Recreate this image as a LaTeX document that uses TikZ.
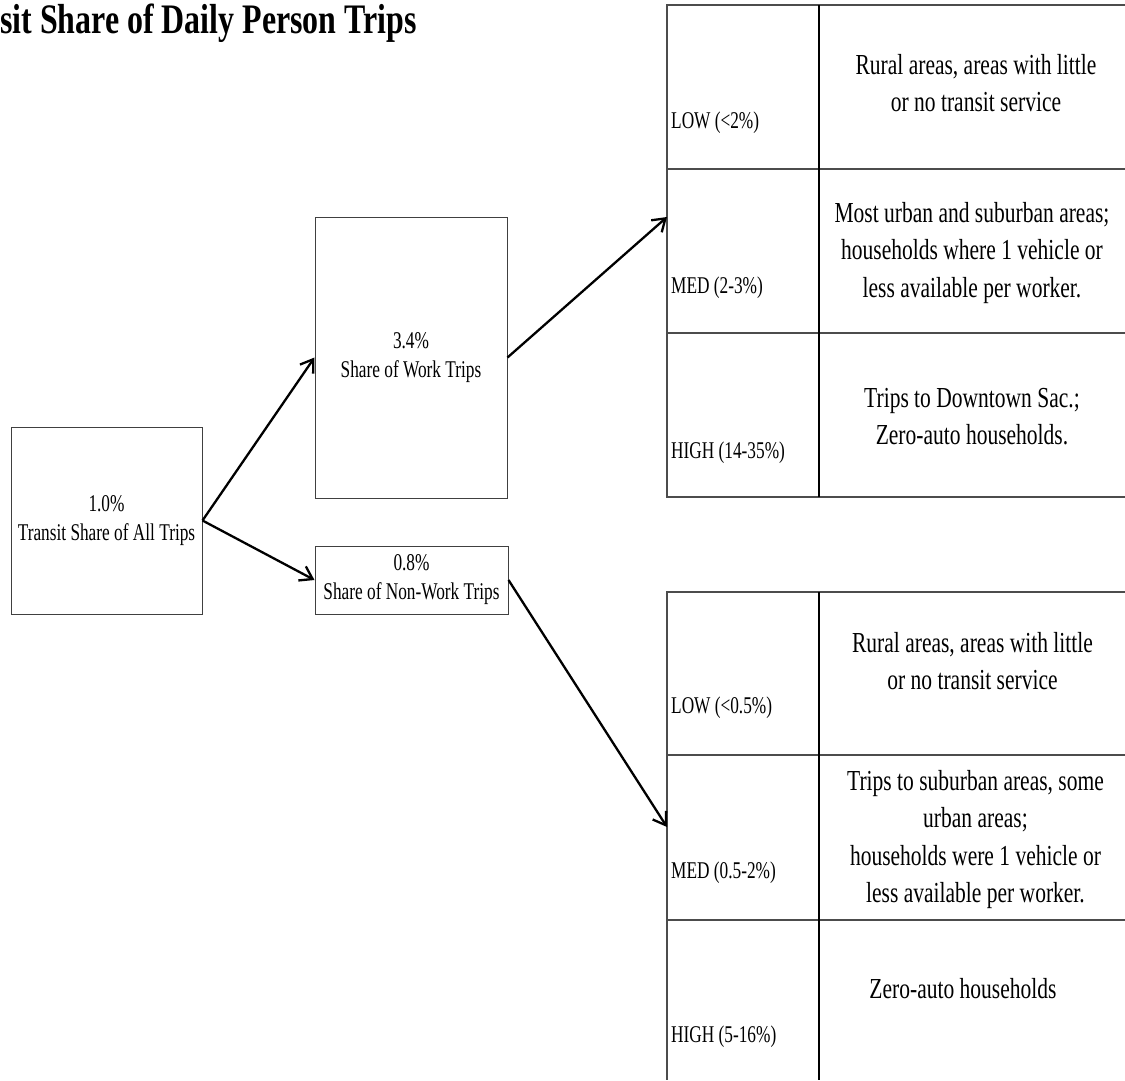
\documentclass[tikz,border=0pt]{standalone}
\usepackage{fontspec}
\setmainfont{Liberation Serif}
\newfontfamily\boxfont[FakeStretch=0.72]{Liberation Serif}
\newfontfamily\descfont[FakeStretch=0.742]{Liberation Serif}
\newfontfamily\titlefont[FakeStretch=0.76]{Liberation Serif}
\usetikzlibrary{arrows.meta}
\tikzset{
  boxnode/.style={draw=black!75, line width=1pt, inner sep=0pt, align=center,
    font=\boxfont\fontsize{24}{29}\selectfont},
  lbl/.style={anchor=base west, inner sep=0pt, font=\boxfont\fontsize{24}{29}\selectfont},
  desc/.style={anchor=base, inner sep=0pt, font=\descfont\fontsize{29}{37.5}\selectfont},
  tline/.style={draw=black!70, line width=1.2pt},
  cline/.style={draw=black, line width=1.2pt},
  arr/.style={line width=2.3pt, -{Straight Barb[length=12pt,width=16pt]}},
}
\begin{document}
\begin{tikzpicture}[x=1pt,y=-1pt]
\useasboundingbox (0,0) rectangle (1125,1080);
% title
\node[anchor=base west, inner sep=0pt, font=\titlefont\bfseries\fontsize{42}{50}\selectfont] (title) at (0,33) {sit Share of Daily Person Trips};
% boxes
\node[boxnode, minimum width=191pt, minimum height=187pt] (all) at (106.5,520.5) {1.0\%\\Transit Share of All Trips};
\node[boxnode, minimum width=192pt, minimum height=281pt] (work) at (411,357.5) {3.4\%\\Share of Work Trips};
\node[boxnode, minimum width=193pt, minimum height=68pt] (nonwork) at (411.5,580) {0.8\%\\Share of Non-Work Trips};
% top table
\draw[tline] (1125,5) -- (667,5) -- (667,497) -- (1125,497);
\draw[tline] (667,169) -- (1125,169);
\draw[tline] (667,333) -- (1125,333);
\draw[cline] (819,5) -- (819,497);
% bottom table
\draw[tline] (1125,592) -- (667,592) -- (667,1080);
\draw[tline] (667,755) -- (1125,755);
\draw[tline] (667,920) -- (1125,920);
\draw[cline] (819,592) -- (819,1080);
% labels
\node[lbl] (l1) at (671,128) {LOW (<2\%)};
\node[lbl] (l2) at (671,293) {MED (2-3\%)};
\node[lbl] (l3) at (671,458) {HIGH (14-35\%)};
\node[lbl] (l4) at (671,713) {LOW (<0.5\%)};
\node[lbl] (l5) at (671,878) {MED (0.5-2\%)};
\node[lbl] (l6) at (671,1042) {HIGH (5-16\%)};
% descriptions
\node[desc] (d1) at (976,74) {\begin{tabular}[t]{@{}c@{}}Rural areas, areas with little\\or no transit service\end{tabular}};
\node[desc] (d2) at (972,222) {\begin{tabular}[t]{@{}c@{}}Most urban and suburban areas;\\households where 1 vehicle or\\less available per worker.\end{tabular}};
\node[desc] (d3) at (972,407) {\begin{tabular}[t]{@{}c@{}}Trips to Downtown Sac.;\\Zero-auto households.\end{tabular}};
\node[desc] (d4) at (972.5,652) {\begin{tabular}[t]{@{}c@{}}Rural areas, areas with little\\or no transit service\end{tabular}};
\node[desc] (d5) at (975.5,790) {\begin{tabular}[t]{@{}c@{}}Trips to suburban areas, some\\urban areas;\\households were 1 vehicle or\\less available per worker.\end{tabular}};
\node[desc] (d6) at (963,998) {Zero-auto households};
% connectors
\coordinate (t1) at (667,217);
\coordinate (t2) at (667,827);
\draw[arr] (all.east) -- (work.west);
\draw[arr] (all.east) -- (nonwork.west);
\draw[arr] (work.east) -- (t1);
\draw[arr] (nonwork.east) -- (t2);
\end{tikzpicture}
\end{document}
